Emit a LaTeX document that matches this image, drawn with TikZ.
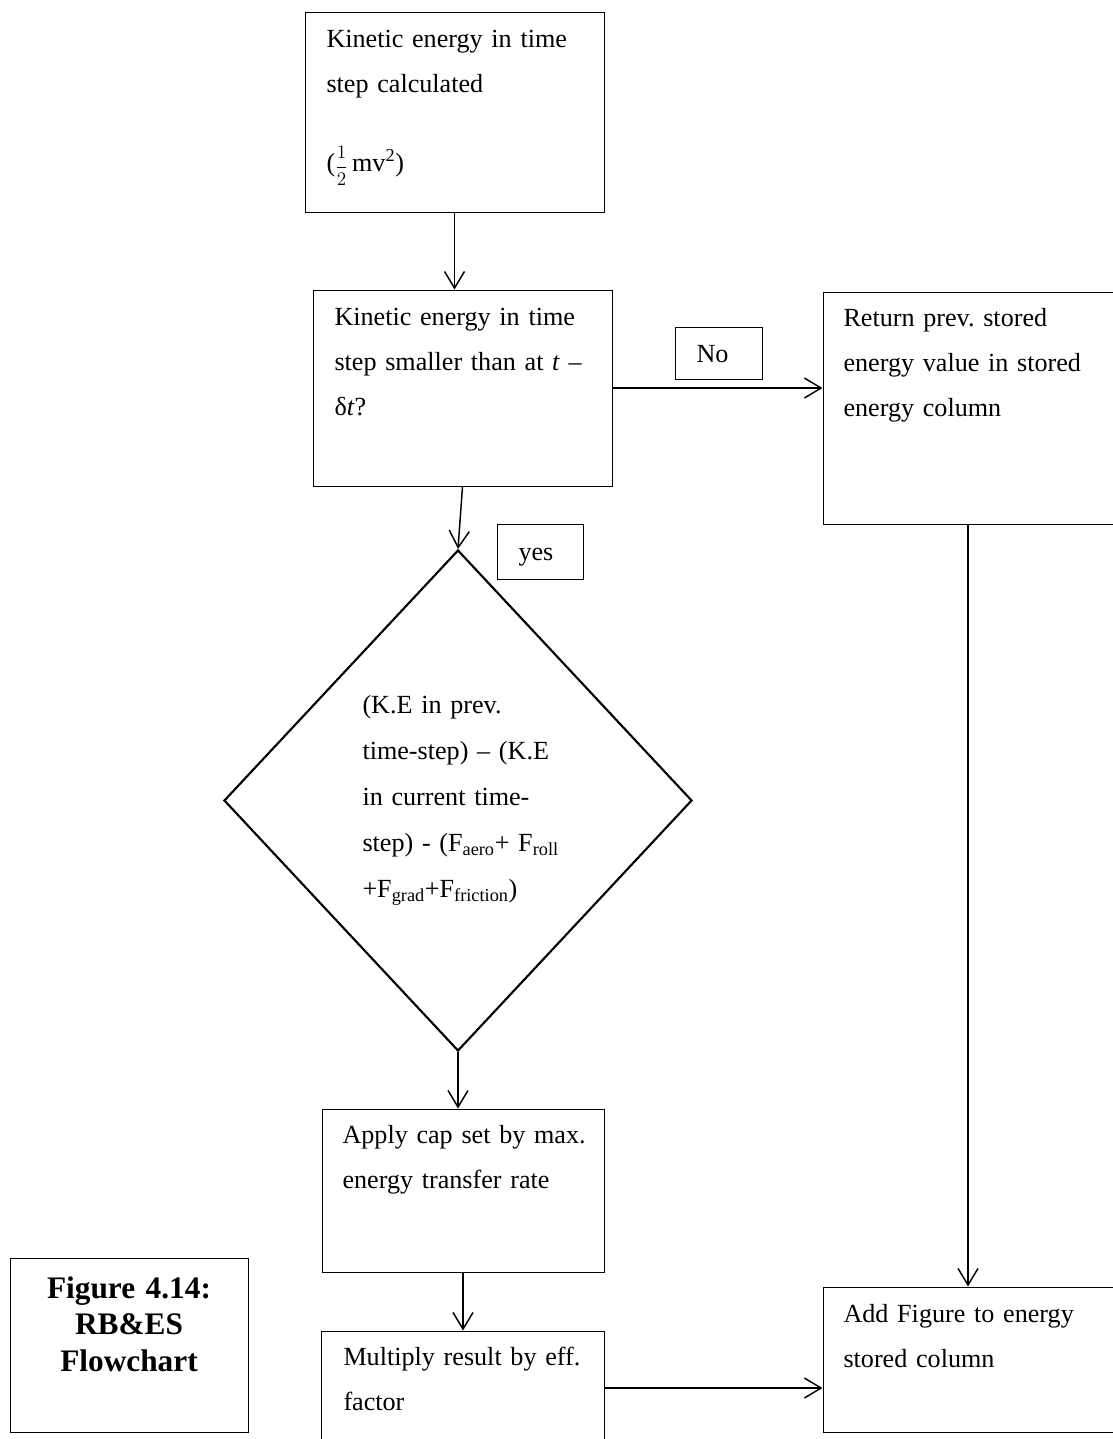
\documentclass[tikz,border=0pt]{standalone}
\usepackage{fontspec}
\setmainfont{Liberation Serif}
\usetikzlibrary{shapes.geometric,arrows.meta}
\frenchspacing

\tikzset{every picture/.style={line width=0.75pt}}
\tikzset{
  box/.style={draw, rectangle, inner sep=0pt},
  txt/.style={anchor=base west, align=left, text width=260pt, inner sep=0pt,
    font=\fontsize{19.6}{34.1}\selectfont},
  arr/.style={-{Straight Barb[length=12.5pt,width=15pt]}, line width=1.1pt},
}

\begin{document}
\begin{tikzpicture}[x=0.75pt,y=0.75pt,yscale=-1,xscale=1]
		\useasboundingbox (0,0) rectangle (1113,1439);
		
		%Shape: Rectangle
		\node[box, minimum width=224.25pt, minimum height=150pt] (ke) at (454.5,112) {};
		%Shape: Rectangle
		\node[box, minimum width=224.25pt, minimum height=147pt] (cmp) at (462.5,388) {};
		%Shape: Rectangle
		\node[box, minimum width=225pt, minimum height=174pt] (ret) at (973,408) {};
		%Shape: Rectangle
		\node[box, minimum width=65.25pt, minimum height=39pt] (nobox) at (718.5,353) {};
		%Shape: Rectangle
		\node[box, minimum width=64.5pt, minimum height=41.25pt] (yesbox) at (540,551.5) {};
		%Shape: Diamond
		\node[draw, diamond, inner sep=0pt, line width=1.6pt, minimum width=351pt, minimum height=375.75pt] (diff) at (458,800.5) {};
		%Shape: Rectangle
		\node[box, minimum width=211.5pt, minimum height=122.25pt] (cap) at (463,1190.5) {};
		%Shape: Rectangle
		\node[box, minimum width=212.25pt, minimum height=96pt] (eff) at (462.5,1395) {};
		%Shape: Rectangle
		\node[box, minimum width=225pt, minimum height=108.75pt] (add) at (973,1359.5) {};
		%Shape: Rectangle
		\node[box, minimum width=178.5pt, minimum height=130.5pt] (cap414) at (129,1345) {};
		
		\coordinate (colx) at (968,0);
		\coordinate (joiny) at (0,1388);
		
		%Straight Lines
		\draw[arr] (ke.south) -- (ke.south |- cmp.north);
		%Straight Lines
		\draw[arr] (cmp.east) -- (cmp.east -| ret.west);
		%Straight Lines
		\draw[arr] (cmp.south) -- (diff.north);
		%Straight Lines
		\draw[arr] (diff.south) -- (diff.south |- cap.north);
		%Straight Lines
		\draw[arr] (cap.south) -- (cap.south |- eff.north);
		%Straight Lines
		\draw[arr] (ret.south -| colx) -- (add.north -| colx);
		%Straight Lines
		\draw[arr] (eff.east |- joiny) -- (add.west |- joiny);
		
		% Text Node
		\node[txt] (tke) at (326,47) {Kinetic energy in time\\ step calculated\\[25.5pt] ({\fontsize{14.5}{15}\selectfont$\displaystyle\frac{1}{2}$}\,mv\textsuperscript{2})};
		% Text Node
		\node[txt] (tcmp) at (334,325) {Kinetic energy in time\\ step smaller than at \textit{t} –\\ δ\textit{t}?};
		% Text Node
		\node[txt] (tret) at (843,326) {Return prev. stored\\ energy value in stored\\ energy column};
		% Text Node
		\node[txt] (tno) at (696,362) {No};
		% Text Node
		\node[txt] (tyes) at (518,560) {yes};
		% Text Node
		\node[txt, font=\fontsize{19.6}{34.5}\selectfont] (tdiff) at (362,713) {(K.E in prev.\\ time-step) – (K.E\\ in current time-\\ step) - (F\textsubscript{aero}+ F\textsubscript{roll}\\ +F\textsubscript{grad}+F\textsubscript{friction})};
		% Text Node
		\node[txt] (tcap) at (342,1143) {Apply cap set by max.\\ energy transfer rate};
		% Text Node
		\node[txt] (teff) at (343,1365) {Multiply result by eff.\\ factor};
		% Text Node
		\node[txt] (tadd) at (843,1322) {Add Figure to energy\\ stored column};
		% Text Node
		\node[anchor=base, align=center, text width=170pt, inner sep=0pt, font=\fontsize{23.5}{27.5}\selectfont\bfseries] (t414) at (129,1298) {Figure 4.14:\\ RB\&ES\\ Flowchart};
		
\end{tikzpicture}
\end{document}
